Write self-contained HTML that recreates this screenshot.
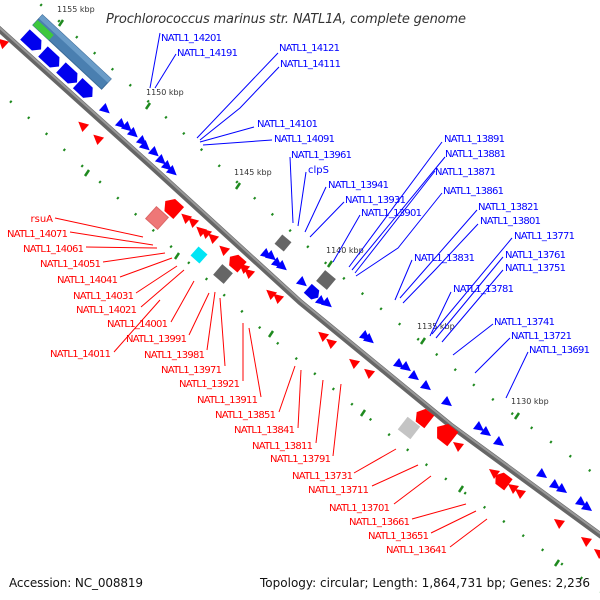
<!DOCTYPE html>
<html><head><meta charset="utf-8"><style>
html,body{margin:0;padding:0;background:#fff;}
svg{display:block;}
text{font-family:"DejaVu Sans","Liberation Sans",sans-serif;}
.b{fill:#0000ff;font-size:10px;}
.r{fill:#ff0000;font-size:10px;}
.k{fill:#333;font-size:8px;}
</style></head><body>
<svg width="600" height="600" viewBox="0 0 600 600" xmlns="http://www.w3.org/2000/svg">
<defs>
<polyline id="bb" points="-60,-26 0,30 150,165 300,302 450,425 600,535 660,577" fill="none"/>
</defs>
<!-- dot rows -->
<use href="#bb" transform="translate(30,-35)" stroke="#1f8a1f" stroke-width="2.5" stroke-dasharray="2 22" fill="none"/>
<use href="#bb" transform="translate(-30,35)" stroke="#1f8a1f" stroke-width="2.5" stroke-dasharray="2 22" stroke-dashoffset="8" fill="none"/>
<g stroke="#1f8a1f" stroke-width="2.5">
<line x1="59" y1="26" x2="63" y2="20"/><line x1="146" y1="109" x2="150" y2="103"/><line x1="236" y1="189" x2="240" y2="183"/>
<line x1="328" y1="267" x2="332" y2="261"/><line x1="421" y1="344" x2="425" y2="338"/><line x1="515" y1="419" x2="519" y2="413"/>
<line x1="85" y1="176" x2="89" y2="170"/><line x1="175" y1="259" x2="179" y2="253"/><line x1="269" y1="337" x2="273" y2="331"/>
<line x1="361" y1="416" x2="365" y2="410"/><line x1="459" y1="492" x2="463" y2="486"/><line x1="555" y1="566" x2="559" y2="560"/>
</g>
<!-- backbone -->
<use href="#bb" stroke="#666" stroke-width="6"/>
<use href="#bb" transform="translate(1,-1)" stroke="#999" stroke-width="2"/>

<!-- tick labels -->
<text class="k" x="57" y="12">1155 kbp</text>
<text class="k" x="146" y="95">1150 kbp</text>
<text class="k" x="234" y="175">1145 kbp</text>
<text class="k" x="326" y="253">1140 kbp</text>
<text class="k" x="417" y="329">1135 kbp</text>
<text class="k" x="511" y="404">1130 kbp</text>

<!-- steel band -->
<g transform="translate(72,52) rotate(43)">
<rect x="-47" y="-7" width="94" height="14" fill="#4a7fb0" stroke="#3a6a98" stroke-width="1"/>
<rect x="-47" y="-7" width="94" height="5" fill="#6a9cc8"/>
<rect x="-47" y="0" width="22" height="7" fill="#3ec83e"/>
</g>
<!-- big blue arrows -->
<g fill="#0000ee">
<polygon transform="translate(33,42) rotate(43)" points="-11,-7 5,-7 11,0 5,7 -11,7"/>
<polygon transform="translate(51,59) rotate(43)" points="-11,-7 5,-7 11,0 5,7 -11,7"/>
<polygon transform="translate(69,75) rotate(43)" points="-11,-7 5,-7 11,0 5,7 -11,7"/>
<polygon transform="translate(85,90) rotate(43)" points="-10,-7 4,-7 10,0 4,7 -10,7"/>
<polygon transform="translate(313,293) rotate(42)" points="-7,-6 3,-6 7,0 3,6 -7,6"/>
</g>
<!-- small blue triangles -->
<g fill="#0000ff">
<polygon transform="translate(106,110) rotate(42)" points="-5,-5 5,0 -5,5"/>
<polygon transform="translate(122,125) rotate(42)" points="-5,-5 5,0 -5,5"/>
<polygon transform="translate(128,128) rotate(42)" points="-5,-5 5,0 -5,5"/>
<polygon transform="translate(134,134) rotate(42)" points="-5,-5 5,0 -5,5"/>
<polygon transform="translate(143,142) rotate(42)" points="-5,-5 5,0 -5,5"/>
<polygon transform="translate(146,147) rotate(42)" points="-5,-5 5,0 -5,5"/>
<polygon transform="translate(155,153) rotate(42)" points="-5,-5 5,0 -5,5"/>
<polygon transform="translate(162,161) rotate(42)" points="-5,-5 5,0 -5,5"/>
<polygon transform="translate(168,167) rotate(42)" points="-5,-5 5,0 -5,5"/>
<polygon transform="translate(173,172) rotate(42)" points="-5,-5 5,0 -5,5"/>
<polygon transform="translate(267,255) rotate(40)" points="-5,-5 5,0 -5,5"/>
<polygon transform="translate(272,257) rotate(40)" points="-5,-5 5,0 -5,5"/>
<polygon transform="translate(278,264) rotate(40)" points="-5,-5 5,0 -5,5"/>
<polygon transform="translate(283,267) rotate(40)" points="-5,-5 5,0 -5,5"/>
<polygon transform="translate(303,283) rotate(40)" points="-5,-5 5,0 -5,5"/>
<polygon transform="translate(322,302) rotate(40)" points="-5,-5 5,0 -5,5"/>
<polygon transform="translate(328,304) rotate(40)" points="-5,-5 5,0 -5,5"/>
<polygon transform="translate(366,337) rotate(40)" points="-5,-5 5,0 -5,5"/>
<polygon transform="translate(370,340) rotate(40)" points="-5,-5 5,0 -5,5"/>
<polygon transform="translate(400,365) rotate(38)" points="-5,-5 5,0 -5,5"/>
<polygon transform="translate(407,368) rotate(38)" points="-5,-5 5,0 -5,5"/>
<polygon transform="translate(415,377) rotate(38)" points="-5,-5 5,0 -5,5"/>
<polygon transform="translate(427,387) rotate(38)" points="-5,-5 5,0 -5,5"/>
<polygon transform="translate(448,403) rotate(38)" points="-5,-5 5,0 -5,5"/>
<polygon transform="translate(480,428) rotate(37)" points="-5,-5 5,0 -5,5"/>
<polygon transform="translate(487,433) rotate(37)" points="-5,-5 5,0 -5,5"/>
<polygon transform="translate(500,443) rotate(37)" points="-5,-5 5,0 -5,5"/>
<polygon transform="translate(543,475) rotate(36)" points="-5,-5 5,0 -5,5"/>
<polygon transform="translate(556,486) rotate(36)" points="-5,-5 5,0 -5,5"/>
<polygon transform="translate(563,490) rotate(36)" points="-5,-5 5,0 -5,5"/>
<polygon transform="translate(582,503) rotate(36)" points="-5,-5 5,0 -5,5"/>
<polygon transform="translate(588,508) rotate(36)" points="-5,-5 5,0 -5,5"/>
</g>
<!-- red genes -->
<g fill="#ff0000">
<polygon transform="translate(2,42) rotate(43)" points="5,-5 -5,0 5,5"/>
<polygon transform="translate(82,125) rotate(42)" points="5,-5 -5,0 5,5"/>
<polygon transform="translate(97,138) rotate(42)" points="5,-5 -5,0 5,5"/>
<polygon transform="translate(185,217) rotate(42)" points="5,-5 -5,0 5,5"/>
<polygon transform="translate(192,221) rotate(42)" points="5,-5 -5,0 5,5"/>
<polygon transform="translate(200,230) rotate(42)" points="5,-5 -5,0 5,5"/>
<polygon transform="translate(205,232) rotate(42)" points="5,-5 -5,0 5,5"/>
<polygon transform="translate(212,237) rotate(42)" points="5,-5 -5,0 5,5"/>
<polygon transform="translate(223,249) rotate(42)" points="5,-5 -5,0 5,5"/>
<polygon transform="translate(243,267) rotate(41)" points="5,-5 -5,0 5,5"/>
<polygon transform="translate(248,272) rotate(41)" points="5,-5 -5,0 5,5"/>
<polygon transform="translate(270,293) rotate(41)" points="5,-5 -5,0 5,5"/>
<polygon transform="translate(277,297) rotate(41)" points="5,-5 -5,0 5,5"/>
<polygon transform="translate(322,335) rotate(40)" points="5,-5 -5,0 5,5"/>
<polygon transform="translate(330,342) rotate(40)" points="5,-5 -5,0 5,5"/>
<polygon transform="translate(353,362) rotate(39)" points="5,-5 -5,0 5,5"/>
<polygon transform="translate(368,372) rotate(39)" points="5,-5 -5,0 5,5"/>
<polygon transform="translate(457,445) rotate(37)" points="5,-5 -5,0 5,5"/>
<polygon transform="translate(493,472) rotate(37)" points="5,-5 -5,0 5,5"/>
<polygon transform="translate(512,487) rotate(37)" points="5,-5 -5,0 5,5"/>
<polygon transform="translate(519,492) rotate(37)" points="5,-5 -5,0 5,5"/>
<polygon transform="translate(558,522) rotate(36)" points="5,-5 -5,0 5,5"/>
<polygon transform="translate(585,540) rotate(36)" points="5,-5 -5,0 5,5"/>
<polygon transform="translate(598,552) rotate(36)" points="5,-5 -5,0 5,5"/>
<polygon transform="translate(172,207) rotate(42)" points="9,-8 -3,-8 -9,0 -3,8 9,8"/>
<polygon transform="translate(236,262) rotate(41)" points="8,-7 -3,-7 -8,0 -3,7 8,7"/>
<polygon transform="translate(423,417) rotate(38)" points="8,-8 -3,-8 -8,0 -3,8 8,8"/>
<polygon transform="translate(445,433) rotate(38)" points="10,-9 -3,-9 -10,0 -3,9 10,9"/>
<polygon transform="translate(502,480) rotate(37)" points="8,-7 -3,-7 -8,0 -3,7 8,7"/>
</g>
<!-- boxes -->
<rect transform="translate(157,218) rotate(42)" x="-8" y="-8" width="16" height="16" fill="#ee7777" stroke="#d66" stroke-width="1"/>
<rect transform="translate(199,255) rotate(42)" x="-6" y="-6" width="12" height="12" fill="#00e5f5"/>
<rect transform="translate(223,274) rotate(41)" x="-7" y="-7" width="14" height="14" fill="#666"/>
<rect transform="translate(283,243) rotate(40)" x="-6" y="-6" width="12" height="12" fill="#666"/>
<rect transform="translate(326,280) rotate(40)" x="-7" y="-7" width="14" height="14" fill="#666"/>
<rect transform="translate(409,428) rotate(38)" x="-8" y="-8" width="16" height="16" fill="#c4c4c4"/>

<!-- blue leaders -->
<g stroke="#0000ff" stroke-width="1" fill="none">
<polyline points="160,33 150,88"/>
<polyline points="176,54 155,88"/>
<polyline points="278,53 197,138"/>
<polyline points="279,67 240,108 200,140"/>
<polyline points="254,127 200,142"/>
<polyline points="272,140 203,145"/>
<polyline points="290,157 293,223"/>
<polyline points="306,172 298,226"/>
<polyline points="326,187 305,232"/>
<polyline points="344,202 310,237"/>
<polyline points="360,215 333,262"/>
<polyline points="442,142 349,267"/>
<polyline points="445,157 352,270"/>
<polyline points="435,171 355,273"/>
<polyline points="442,193 398,248 356,276"/>
<polyline points="412,260 395,300"/>
<polyline points="477,210 400,298"/>
<polyline points="478,224 435,270 403,303"/>
<polyline points="512,238 432,334"/>
<polyline points="503,257 436,338"/>
<polyline points="503,270 442,342"/>
<polyline points="451,292 430,336"/>
<polyline points="493,324 453,355"/>
<polyline points="510,338 475,373"/>
<polyline points="528,352 506,398"/>
</g>
<!-- red leaders -->
<g stroke="#ff0000" stroke-width="1" fill="none">
<polyline points="55,218 143,237"/>
<polyline points="70,232 153,245"/>
<polyline points="86,247 157,248"/>
<polyline points="103,262 165,253"/>
<polyline points="120,277 172,258"/>
<polyline points="136,293 177,266"/>
<polyline points="141,307 184,270"/>
<polyline points="171,322 194,281"/>
<polyline points="114,352 160,300"/>
<polyline points="189,335 209,293"/>
<polyline points="207,350 215,292"/>
<polyline points="225,366 220,298"/>
<polyline points="243,381 243,323"/>
<polyline points="261,397 249,328"/>
<polyline points="279,412 295,366"/>
<polyline points="298,428 301,370"/>
<polyline points="316,443 323,380"/>
<polyline points="333,456 341,384"/>
<polyline points="354,473 396,449"/>
<polyline points="372,486 418,465"/>
<polyline points="394,504 431,476"/>
<polyline points="412,519 466,504"/>
<polyline points="431,533 476,511"/>
<polyline points="450,547 487,519"/>
</g>

<!-- blue labels -->
<g class="b">
<text x="161" y="41" textLength="61">NATL1_14201</text>
<text x="177" y="56" textLength="61">NATL1_14191</text>
<text x="279" y="51" textLength="61">NATL1_14121</text>
<text x="280" y="67" textLength="61">NATL1_14111</text>
<text x="257" y="127" textLength="61">NATL1_14101</text>
<text x="274" y="142" textLength="61">NATL1_14091</text>
<text x="291" y="158" textLength="61">NATL1_13961</text>
<text x="308" y="173">clpS</text>
<text x="328" y="188" textLength="61">NATL1_13941</text>
<text x="345" y="203" textLength="61">NATL1_13931</text>
<text x="361" y="216" textLength="61">NATL1_13901</text>
<text x="444" y="142" textLength="61">NATL1_13891</text>
<text x="445" y="157" textLength="61">NATL1_13881</text>
<text x="435" y="175" textLength="61">NATL1_13871</text>
<text x="443" y="194" textLength="61">NATL1_13861</text>
<text x="478" y="210" textLength="61">NATL1_13821</text>
<text x="480" y="224" textLength="61">NATL1_13801</text>
<text x="514" y="239" textLength="61">NATL1_13771</text>
<text x="505" y="258" textLength="61">NATL1_13761</text>
<text x="505" y="271" textLength="61">NATL1_13751</text>
<text x="414" y="261" textLength="61">NATL1_13831</text>
<text x="453" y="292" textLength="61">NATL1_13781</text>
<text x="494" y="325" textLength="61">NATL1_13741</text>
<text x="511" y="339" textLength="61">NATL1_13721</text>
<text x="529" y="353" textLength="61">NATL1_13691</text>
</g>
<!-- red labels -->
<g class="r" text-anchor="end">
<text x="53" y="222">rsuA</text>
<text x="68" y="237" textLength="61">NATL1_14071</text>
<text x="84" y="252" textLength="61">NATL1_14061</text>
<text x="101" y="267" textLength="61">NATL1_14051</text>
<text x="118" y="283" textLength="61">NATL1_14041</text>
<text x="134" y="299" textLength="61">NATL1_14031</text>
<text x="137" y="313" textLength="61">NATL1_14021</text>
<text x="168" y="327" textLength="61">NATL1_14001</text>
<text x="111" y="357" textLength="61">NATL1_14011</text>
<text x="187" y="342" textLength="61">NATL1_13991</text>
<text x="205" y="358" textLength="61">NATL1_13981</text>
<text x="222" y="373" textLength="61">NATL1_13971</text>
<text x="240" y="387" textLength="61">NATL1_13921</text>
<text x="258" y="403" textLength="61">NATL1_13911</text>
<text x="276" y="418" textLength="61">NATL1_13851</text>
<text x="295" y="433" textLength="61">NATL1_13841</text>
<text x="313" y="449" textLength="61">NATL1_13811</text>
<text x="331" y="462" textLength="61">NATL1_13791</text>
<text x="353" y="479" textLength="61">NATL1_13731</text>
<text x="369" y="493" textLength="61">NATL1_13711</text>
<text x="390" y="511" textLength="61">NATL1_13701</text>
<text x="410" y="525" textLength="61">NATL1_13661</text>
<text x="429" y="539" textLength="61">NATL1_13651</text>
<text x="447" y="553" textLength="61">NATL1_13641</text>
</g>

<text x="106" y="23" font-size="13" font-style="italic" fill="#333" textLength="360">Prochlorococcus marinus str. NATL1A, complete genome</text>
<text x="9" y="587" font-size="12" fill="#111" textLength="134">Accession: NC_008819</text>
<text x="590" y="587" font-size="12" fill="#111" text-anchor="end" textLength="330">Topology: circular; Length: 1,864,731 bp; Genes: 2,236</text>
</svg>
</body></html>
